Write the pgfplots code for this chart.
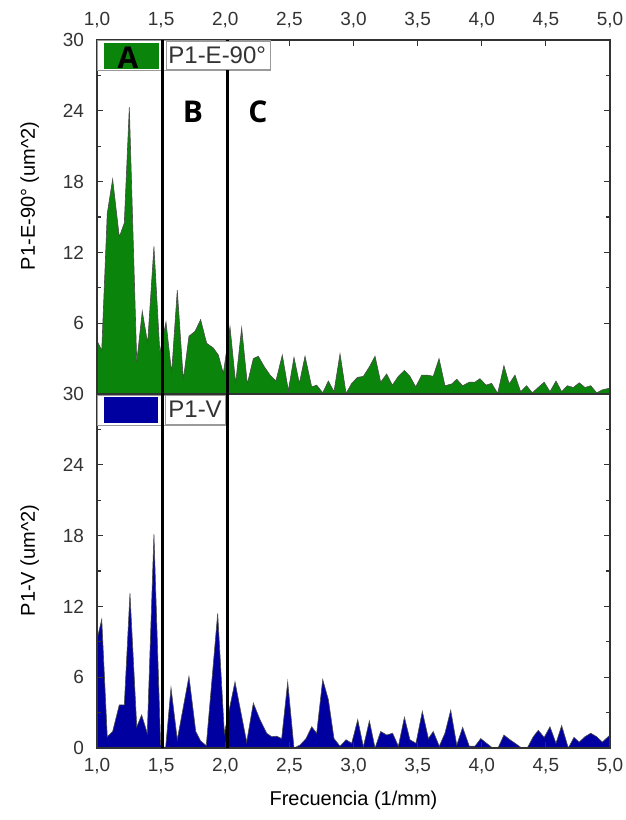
\documentclass[border=0pt]{standalone}
\usepackage{fontspec}
\setmainfont{Liberation Sans}
\newfontfamily\labfont{Open Sans}
\usepackage{pgfplots}
\pgfplotsset{compat=1.18}
\definecolor{fillg}{HTML}{0A840A}
\definecolor{fillb}{HTML}{0000A0}
\definecolor{legbd}{HTML}{9A9A9A}
\definecolor{ink}{HTML}{333333}

\pgfplotsset{
  panel/.style={
    scale only axis, width=256.5pt, height=177pt,
    anchor=south west,
    xmin=1, xmax=5, ymin=0, ymax=30,
    xtick={1,1.5,...,5},
    tick align=inside, major tick length=3pt, minor tick length=1.8pt,
    minor y tick num=1,
    ytick pos=both, yticklabel pos=left,
    axis on top,
    axis line style={line width=0.6pt, ink},
    tick style={line width=0.6pt, ink},
    tick label style={font=\fontsize{9.5}{11}\selectfont, text=ink},
    yticklabel style={xshift=-3pt},
    xticklabel style={/pgf/number format/use comma, /pgf/number format/fixed,
      /pgf/number format/fixed zerofill, /pgf/number format/precision=1},
    /pgf/number format/assume math mode=true,
    label style={font=\fontsize{12}{14}\selectfont, text=ink},
  },
  area/.style={draw=black!70, line width=0.3pt},
}

\begin{document}
\begin{tikzpicture}[x=1pt, y=1pt]
\useasboundingbox (0,0) rectangle (313,410);

% upper panel
\begin{axis}[panel, at={(48.5pt,213pt)},
  ytick={6,12,...,30},
  xtick pos=right, xticklabel pos=right,
  xticklabel style={yshift=2.5pt},
  ylabel={P1-E-90° (um\textasciicircum 2)},
  every axis y label/.style={at={(axis description cs:-0.131,0.56)}, rotate=90, anchor=center}]
\addplot[area, fill=fillg] coordinates {
(1.0,4.5) (1.037,3.7) (1.08,15.3) (1.122,18.2) (1.174,13.3) (1.213,14.5)
(1.252,24.3) (1.31,2.7) (1.353,7.0) (1.395,4.3) (1.444,12.5) (1.49,3.5)
(1.538,6.1) (1.582,1.8) (1.626,8.8) (1.673,1.2) (1.717,4.9) (1.764,5.3)
(1.808,6.3) (1.855,4.3) (1.907,3.9) (1.946,3.3) (1.985,1.75) (2.037,5.7)
(2.081,0.9) (2.128,5.6) (2.172,0.85) (2.219,3.0) (2.258,3.2) (2.305,2.3)
(2.35,1.6) (2.395,1.1) (2.445,3.3) (2.492,0.3) (2.536,3.1) (2.578,0.9)
(2.622,3.2) (2.674,0.6) (2.713,0.75) (2.76,0.1) (2.804,1.1) (2.848,0.2)
(2.895,3.4) (2.942,0.05) (2.986,0.9) (3.03,1.4) (3.077,1.5) (3.124,2.3)
(3.168,3.2) (3.212,1.0) (3.259,1.7) (3.303,0.75) (3.35,1.5) (3.397,2.0)
(3.44,1.5) (3.485,0.6) (3.532,1.6) (3.575,1.6) (3.622,1.5) (3.667,3.0)
(3.713,0.7) (3.766,0.85) (3.805,1.25) (3.851,0.7) (3.903,1.0) (3.947,1.0)
(3.986,1.3) (4.033,0.75) (4.077,0.9) (4.124,0.05) (4.173,2.4) (4.214,0.85)
(4.259,1.6) (4.303,0.2) (4.35,0.7) (4.394,0.1) (4.44,0.55) (4.487,1.0)
(4.532,0.2) (4.579,1.1) (4.623,0.2) (4.667,0.7) (4.714,0.55) (4.76,0.95)
(4.805,0.55) (4.85,0.7) (4.896,0.1) (4.94,0.35) (5.0,0.5)
} \closedcycle;
\end{axis}

% lower panel
\begin{axis}[panel, at={(48.5pt,36pt)},
  ytick={0,6,...,30},
  xtick pos=left, xticklabel pos=left,
  xticklabel style={yshift=-1.5pt},
  xlabel={Frecuencia (1/mm)},
  ylabel={P1-V (um\textasciicircum 2)},
  every axis x label/.style={at={(axis description cs:0.5,0)}, anchor=center, yshift=-26pt},
  every axis y label/.style={at={(axis description cs:-0.131,0.53)}, rotate=90, anchor=center}]
\addplot[area, fill=fillb] coordinates {
(1.0,9.2) (1.037,10.9) (1.08,0.96) (1.122,1.4) (1.174,3.65) (1.213,3.65)
(1.257,13.1) (1.31,1.8) (1.348,2.8) (1.392,1.25) (1.444,18.1) (1.496,0.25)
(1.535,0.0) (1.577,5.1) (1.626,0.7) (1.717,6.06) (1.77,1.4) (1.808,0.6)
(1.852,0.2) (1.941,11.4) (1.993,1.25) (2.076,5.6) (2.167,0.5) (2.219,3.8)
(2.271,2.4) (2.323,1.25) (2.362,0.96) (2.401,1.0) (2.44,0.8) (2.487,5.6)
(2.536,0.0) (2.583,0.25) (2.63,0.8) (2.674,1.8) (2.713,1.25) (2.76,5.8)
(2.804,4.1) (2.848,0.8) (2.895,0.15) (2.942,0.7) (2.986,0.4) (3.033,2.4)
(3.077,0.1) (3.124,2.3) (3.168,0.0) (3.212,1.4) (3.259,1.1) (3.305,1.25)
(3.35,0.15) (3.397,2.6) (3.44,0.7) (3.487,0.4) (3.537,3.1) (3.584,0.8)
(3.622,1.4) (3.669,0.15) (3.713,1.25) (3.758,3.2) (3.805,0.25) (3.851,1.75)
(3.903,0.15) (3.947,0.15) (3.992,0.8) (4.038,0.4) (4.085,0.0) (4.129,0.05)
(4.173,1.1) (4.22,0.7) (4.267,0.35) (4.311,0.0) (4.355,0.0) (4.402,0.96)
(4.441,1.5) (4.487,0.9) (4.532,1.8) (4.579,0.4) (4.623,1.9) (4.675,0.0)
(4.719,0.9) (4.76,0.5) (4.805,0.96) (4.85,1.25) (4.896,0.96) (4.94,0.5)
(5.0,1.1)
} \closedcycle;
\coordinate (l1b) at (axis cs:1.51,0);
\coordinate (l1t) at (axis cs:1.51,60);
\coordinate (l2b) at (axis cs:2.02,0);
\coordinate (l2t) at (axis cs:2.02,60);
\end{axis}

% legend backgrounds
\filldraw[fill=white, draw=legbd, line width=0.4pt] (48.5,375) rectangle (135,390);
\filldraw[fill=white, draw=legbd, line width=0.4pt] (48.5,197.5) rectangle (113,212.5);

% region dividers
\draw[line width=1.5pt, black] (l1b) -- (l1t);
\draw[line width=1.5pt, black] (l2b) -- (l2t);

% legend entries
\filldraw[fill=white, draw=legbd, line width=0.4pt] (83,375.3) rectangle (135,389.3);
\fill[fillg] (52,375.5) rectangle (79.5,388.5);
\node[anchor=west, inner sep=0pt, font=\fontsize{12}{14}\selectfont, text=ink] at (84,382.3) {P1-E-90°};
\filldraw[fill=white, draw=legbd, line width=0.4pt] (82.5,198) rectangle (112.5,212.3);
\fill[fillb] (52,198.3) rectangle (79,211.3);
\node[anchor=west, inner sep=0pt, font=\fontsize{12}{14}\selectfont, text=ink] at (84,205.2) {P1-V};

% region labels
\node[font=\labfont\bfseries\fontsize{15}{17}\selectfont, anchor=base, inner sep=0pt] at (64,375.6) {A};
\node[font=\labfont\bfseries\fontsize{15}{17}\selectfont] at (96.5,354) {B};
\node[font=\labfont\bfseries\fontsize{15}{17}\selectfont] at (129,354) {C};
\end{tikzpicture}
\end{document}
